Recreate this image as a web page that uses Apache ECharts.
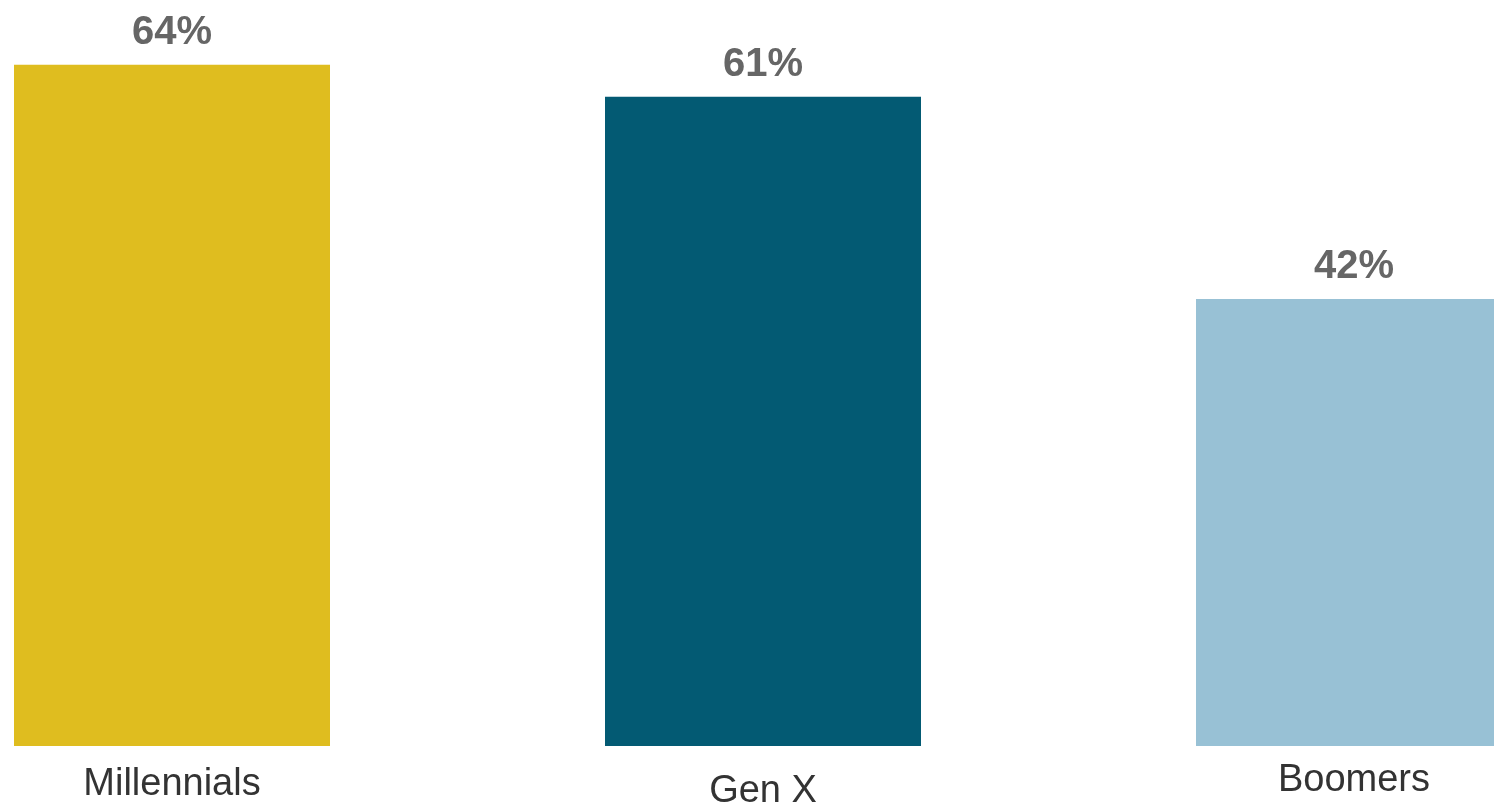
<!DOCTYPE html>
<html>
<head>
<meta charset="utf-8">
<style>
  html, body { margin: 0; padding: 0; background: #ffffff; }
  #chart { width: 1494px; height: 806px; }
</style>
<script src="https://cdn.jsdelivr.net/npm/echarts@6/dist/echarts.min.js"></script>
</head>
<body>
<div id="chart"></div>
<script>
// Share of respondents by generation
const categories = ['Millennials', 'Gen X', 'Boomers'];
const values = [64, 61, 42];
const barColors = ['#DFBD1F', '#035A73', '#98C1D5'];
// small per-label vertical nudges for the category names
const labelOffsets = [6, 13, 2];

const chart = echarts.init(document.getElementById('chart'), null, { renderer: 'canvas' });

chart.setOption({
  animation: false,
  backgroundColor: '#ffffff',
  grid: {
    left: -123.5, width: 1773, top: 1, bottom: 60,
    containLabel: false,
    outerBoundsMode: 'none'
  },
  xAxis: {
    type: 'category',
    data: categories.map((c, i) => ({
      value: c,
      textStyle: { padding: [labelOffsets[i], 0, 0, 0] }
    })),
    axisLine: { show: false },
    axisTick: { show: false },
    axisLabel: {
      margin: 14,
      fontFamily: 'Liberation Sans, Arial, sans-serif',
      fontSize: 38,
      color: '#333333',
      interval: 0
    }
  },
  yAxis: {
    type: 'value',
    min: 0,
    max: 70,
    show: false,
    splitLine: { show: false }
  },
  series: [{
    type: 'bar',
    barWidth: 316,
    data: values.map((v, i) => ({ value: v, itemStyle: { color: barColors[i] } })),
    label: {
      show: true,
      position: 'top',
      distance: 12,
      formatter: p => p.value + '%',
      fontFamily: 'Liberation Sans, Arial, sans-serif',
      fontSize: 40,
      fontWeight: 'bold',
      color: '#666666'
    }
  }]
});
</script>
</body>
</html>
